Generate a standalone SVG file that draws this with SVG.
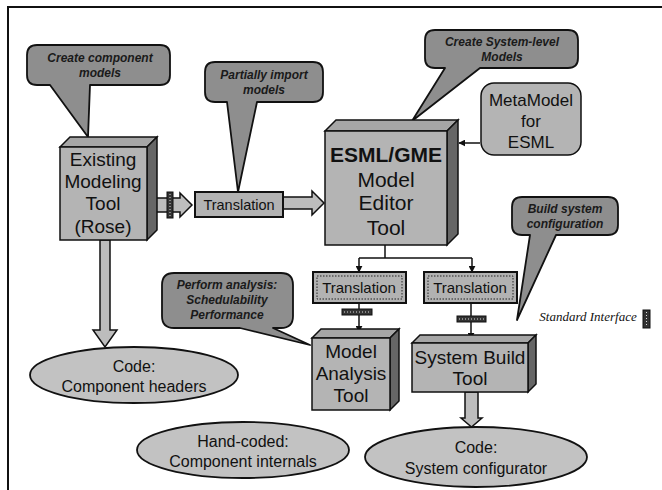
<svg xmlns="http://www.w3.org/2000/svg" width="662" height="490" viewBox="0 0 662 490">
<defs>
<marker id="ah" viewBox="0 0 10 10" refX="9" refY="5" markerWidth="7" markerHeight="7" orient="auto" markerUnits="userSpaceOnUse">
<path d="M0,0 L10,5 L0,10 Z" fill="#111"/>
</marker>
<style>
.front{fill:#b4b4b4;stroke:#111;stroke-width:1.5}
.top{fill:#a6a6a6;stroke:#111;stroke-width:1.5}
.side{fill:#666;stroke:#111;stroke-width:1.5}
.call{fill:#8e8e8e;stroke:#111;stroke-width:1.8;stroke-linejoin:round}
.ell{fill:#c2c2c2;stroke:#111;stroke-width:1.8}
.blk{fill:#bdbdbd;stroke:#111;stroke-width:1.5;stroke-linejoin:miter}
.tr{fill:#b2b2b2;stroke:#111;stroke-width:2}
.tri{fill:none;stroke:#222;stroke-width:1;stroke-dasharray:1.5 1.5}
.iface{fill:#333;stroke:#111;stroke-width:1}
.dots{stroke:#ddd;stroke-width:1;stroke-dasharray:1 2}
.wire{fill:none;stroke:#111;stroke-width:1.5}
text{font-family:"Liberation Sans",Arial,sans-serif;fill:#111;text-anchor:middle}
.ct{font-size:12px;font-weight:bold;font-style:italic;fill:#1a1a1a}
.bt{font-size:19px}
.et{font-size:16px}
</style>
</defs>
<rect x="0" y="0" width="662" height="490" fill="#fff"/>
<path d="M8,490 V7 H662" fill="none" stroke="#111" stroke-width="2"/>

<g id="connectors">
<path class="blk" d="M155,198 H180 V193 L192,205 L180,217 V212 H155 Z"/>
<rect class="iface" x="167" y="192" width="6" height="26"/>
<line class="dots" x1="170" y1="194" x2="170" y2="216"/>
<path class="blk" d="M283,197 H312 V191 L324,203 L312,215 V209 H283 Z"/>
<path class="blk" d="M100,240 V330 H93 L105,347 L117,330 H110 V240 Z"/>
<path class="blk" d="M465,392 V418 H461 L471.5,427 L482,418 H478 V392 Z"/>
<line class="wire" x1="480" y1="143" x2="459" y2="143" marker-end="url(#ah)"/>
<path class="wire" d="M385,245 V258 M359,258 H472"/>
<line class="wire" x1="359" y1="258" x2="359" y2="272" marker-end="url(#ah)"/>
<line class="wire" x1="472" y1="258" x2="472" y2="272" marker-end="url(#ah)"/>
<line class="wire" x1="359" y1="303" x2="359" y2="332" marker-end="url(#ah)"/>
<line class="wire" x1="471" y1="303" x2="471" y2="339" marker-end="url(#ah)"/>
<rect class="iface" x="342" y="309" width="30" height="6"/>
<line class="dots" x1="344" y1="312" x2="370" y2="312"/>
<rect class="iface" x="457" y="316" width="29" height="6"/>
<line class="dots" x1="459" y1="319" x2="484" y2="319"/>
</g>

<g id="callout-create-component">
<path class="call" d="M37,45 H160 Q170,45 170,55 V75 Q170,85 160,85 H90 L88,137 L50,85 H37 Q27,85 27,75 V55 Q27,45 37,45 Z"/>
<text class="ct" x="100" y="62">Create component</text>
<text class="ct" x="100" y="77">models</text>
</g>

<g id="callout-partially-import">
<path class="call" d="M215,62 H313 Q323,62 323,72 V92 Q323,102 313,102 H257 L238,192 L227,102 H215 Q205,102 205,92 V72 Q205,62 215,62 Z"/>
<text class="ct" x="264" y="79">Partially import</text>
<text class="ct" x="264" y="94">models</text>
</g>

<g id="callout-system-level">
<path class="call" d="M435,30 H568 Q578,30 578,40 V58 Q578,68 568,68 H480 L412,121 L445,68 H435 Q425,68 425,58 V40 Q425,30 435,30 Z"/>
<text class="ct" x="502" y="46">Create System-level</text>
<text class="ct" x="502" y="61">Models</text>
</g>

<g id="callout-build-system">
<path class="call" d="M522,197 H608 Q618,197 618,207 V225 Q618,235 608,235 H556 L517,320 L530,235 H522 Q512,235 512,225 V207 Q512,197 522,197 Z"/>
<text class="ct" x="565" y="213">Build system</text>
<text class="ct" x="565" y="228">configuration</text>
</g>

<g id="callout-perform-analysis">
<path class="call" d="M174,273 H281 Q293,273 293,285 V316 Q293,328 281,328 H273 L310,345 L240,328 H174 Q162,328 162,316 V285 Q162,273 174,273 Z"/>
<text class="ct" x="227" y="289">Perform analysis:</text>
<text class="ct" x="227" y="304">Schedulability</text>
<text class="ct" x="227" y="319">Performance</text>
</g>

<g id="existing-tool">
<polygon class="top" points="60,147 70,137 157,137 147,147"/>
<polygon class="side" points="147,147 157,137 157,230 147,240"/>
<rect class="front" x="60" y="147" width="87" height="93"/>
<text class="bt" x="103" y="166">Existing</text>
<text class="bt" x="103" y="188">Modeling</text>
<text class="bt" x="103" y="210">Tool</text>
<text class="bt" x="103" y="233">(Rose)</text>
</g>

<g id="translation-1">
<rect class="tr" x="195" y="192" width="88" height="25"/>
<text x="239" y="210" font-size="14.5">Translation</text>
</g>

<g id="esml-editor">
<polygon class="top" points="325,131 336,120 458,120 447,131"/>
<polygon class="side" points="447,131 458,120 458,234 447,245"/>
<rect class="front" x="325" y="131" width="122" height="114"/>
<text x="386" y="162" font-size="21" font-weight="bold">ESML/GME</text>
<text x="386" y="187" font-size="21">Model</text>
<text x="386" y="210" font-size="21">Editor</text>
<text x="386" y="235" font-size="21">Tool</text>
</g>

<g id="metamodel">
<rect class="front" x="481" y="83" width="100" height="72" rx="13"/>
<text x="531" y="106" font-size="17">MetaModel</text>
<text x="531" y="127" font-size="17">for</text>
<text x="531" y="148" font-size="17">ESML</text>
</g>

<g id="translation-2">
<rect class="tr" x="313" y="272" width="93" height="31"/>
<rect class="tri" x="317" y="276" width="85" height="23"/>
<text x="359" y="293" font-size="15">Translation</text>
</g>

<g id="translation-3">
<rect class="tr" x="424" y="272" width="93" height="31"/>
<rect class="tri" x="428" y="276" width="85" height="23"/>
<text x="470" y="293" font-size="15">Translation</text>
</g>

<g id="model-analysis">
<polygon class="top" points="312,338 321,329 399,329 390,338"/>
<polygon class="side" points="390,338 399,329 399,401 390,410"/>
<rect class="front" x="312" y="338" width="78" height="72"/>
<text class="bt" x="351" y="358">Model</text>
<text class="bt" x="351" y="380">Analysis</text>
<text class="bt" x="351" y="402">Tool</text>
</g>

<g id="system-build">
<polygon class="top" points="412,343 420,335 536,335 528,343"/>
<polygon class="side" points="528,343 536,335 536,384 528,392"/>
<rect class="front" x="412" y="343" width="116" height="49"/>
<text class="bt" x="470" y="364">System Build</text>
<text class="bt" x="470" y="385">Tool</text>
</g>

<g id="code-headers">
<ellipse class="ell" cx="134" cy="375" rx="104" ry="28"/>
<text class="et" x="134" y="372">Code:</text>
<text class="et" x="134" y="392">Component headers</text>
</g>

<g id="hand-coded">
<ellipse class="ell" cx="243" cy="450" rx="106" ry="28"/>
<text class="et" x="243" y="447">Hand-coded:</text>
<text class="et" x="243" y="467">Component internals</text>
</g>

<g id="code-configurator">
<ellipse class="ell" cx="476" cy="457" rx="111" ry="30"/>
<text class="et" x="476" y="453">Code:</text>
<text class="et" x="476" y="474">System configurator</text>
</g>

<g id="legend">
<text x="588" y="321" font-family="Liberation Serif, serif" font-style="italic" font-size="13" style="font-family:'Liberation Serif',serif">Standard Interface</text>
<rect class="iface" x="643" y="310" width="7" height="18"/>
<line class="dots" x1="646.5" y1="312" x2="646.5" y2="326"/>
</g>
</svg>
